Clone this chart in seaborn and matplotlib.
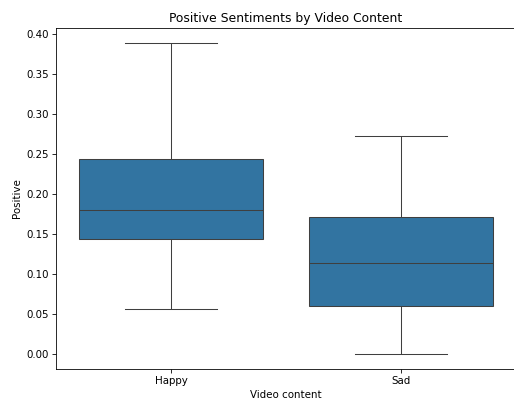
import pandas as pd
import matplotlib
matplotlib.use("Agg")
import matplotlib.pyplot as plt
import seaborn as sns

# Cinco valores por grupo: min, Q1, mediana, Q3, max
happy_vals = [0.056, 0.143, 0.180, 0.244, 0.388]
sad_vals = [0.000, 0.060, 0.113, 0.171, 0.272]
categorias = ["Happy", "Sad"]

df = pd.DataFrame({
    "Video content": [categorias[0]] * len(happy_vals) + [categorias[1]] * len(sad_vals),
    "Positive": happy_vals + sad_vals,
})

DPI = 74
fig = plt.figure(figsize=(514 / DPI, 399 / DPI), dpi=DPI)
ax = fig.add_axes([56 / 514, 30 / 399, 460 / 514, 341 / 399])
sns.boxplot(data=df, x="Video content", y="Positive", ax=ax)
ax.set_title("Positive Sentiments by Video Content")

fig.savefig("out.png", dpi=DPI)
